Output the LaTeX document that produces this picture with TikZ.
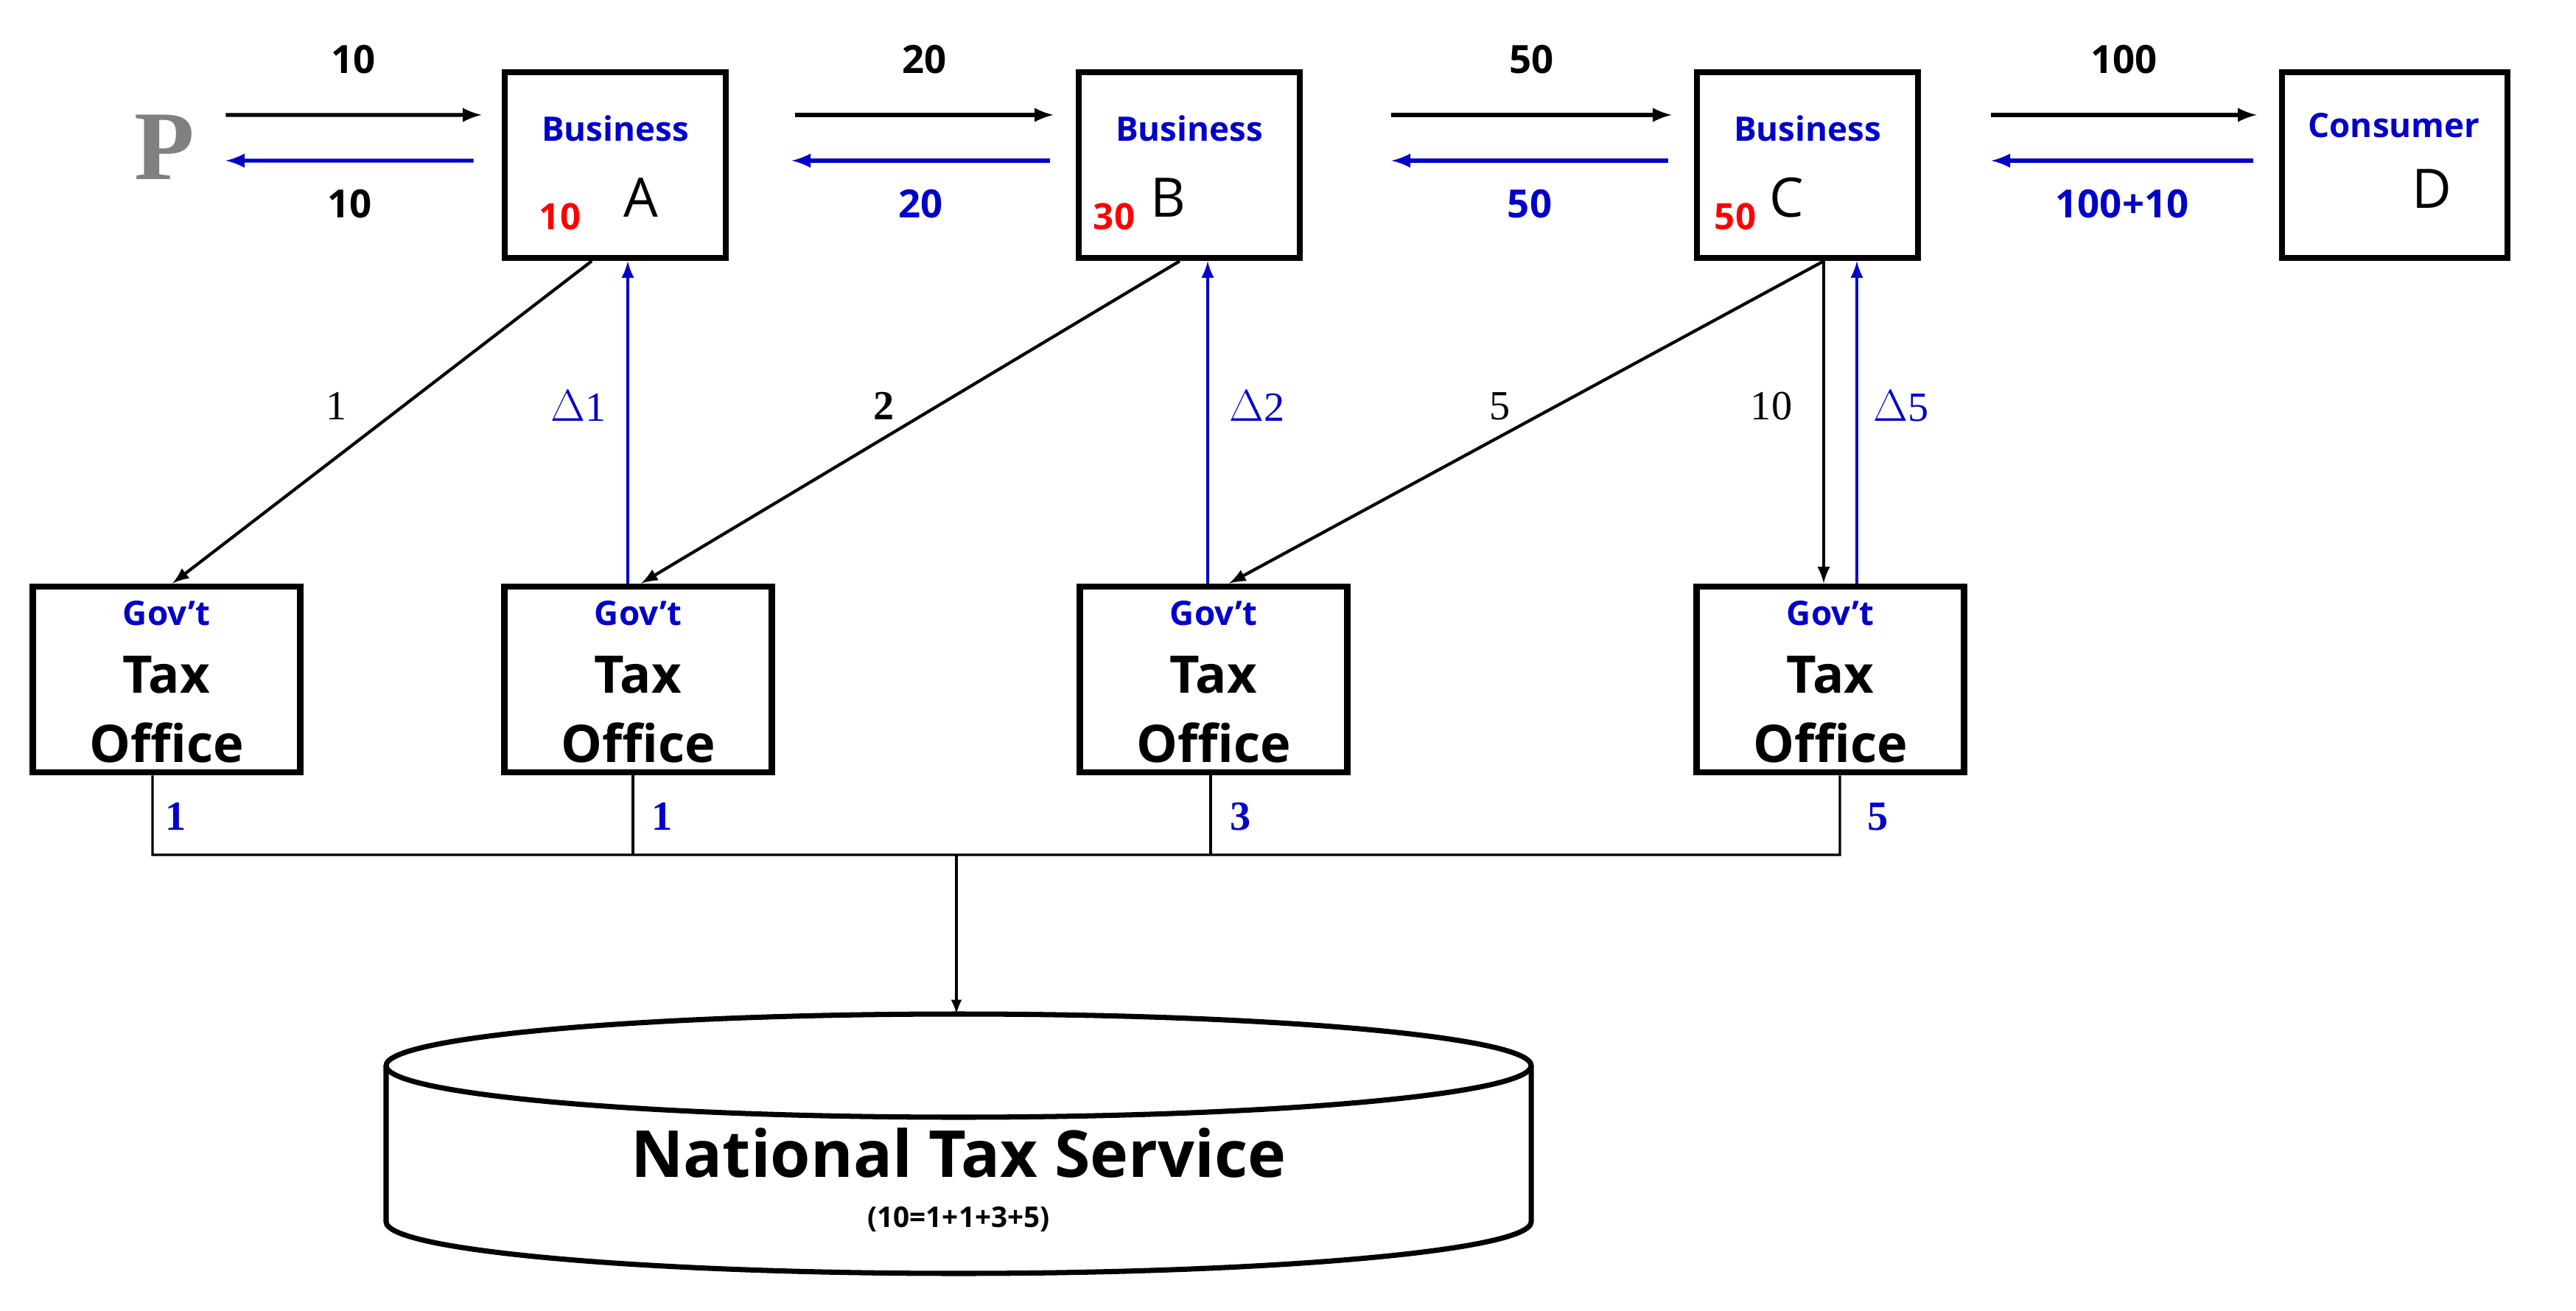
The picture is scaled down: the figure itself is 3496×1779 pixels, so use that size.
\documentclass[tikz,border=0pt]{standalone}
\usepackage{fontspec}
\setmainfont{Open Sans}
\newfontfamily\tms{Liberation Serif}
\usetikzlibrary{arrows}
\definecolor{vblue}{RGB}{0,0,200}

\tikzset{
  biz/.style={draw, line width=2.4pt, minimum width=3cm, minimum height=2.52cm},
  office/.style={draw, line width=2.4pt, minimum width=3.63cm, minimum height=2.52cm, inner sep=0pt},
  flow/.style={->, >=latex, line width=1.5pt},
  back/.style={->, >=latex, line width=1.5pt, vblue},
  amt/.style={font=\fontsize{15}{15}\selectfont\bfseries},
  bamt/.style={font=\fontsize{15}{15}\selectfont\bfseries, vblue},
  tax/.style={font=\tms\fontsize{16}{16}\selectfont},
  tag/.style={font=\fontsize{13}{13}\selectfont\bfseries, vblue},
  ltr/.style={font=\fontsize{21}{21}\selectfont},
  inval/.style={font=\fontsize{14}{14}\selectfont\bfseries, text=red},
  big/.style={font=\fontsize{20}{20}\selectfont\bfseries}
}

\begin{document}
\begin{tikzpicture}[x=0.01cm, y=-0.01cm]
\useasboundingbox (0,0) rectangle (3496,1779);

% Businesses and consumer
\node[font=\tms\fontsize{38}{38}\selectfont\bfseries, text=gray] (P) at (223,200) {P};
\node[biz] (A) at (835,224) {};
\node[biz] (B) at (1614,224) {};
\node[biz] (C) at (2453,224) {};
\node[biz, minimum width=3.06cm] (D) at (3250,224) {};
\node[tag] at (835,174) {Business};
\node[tag] at (1614,174) {Business};
\node[tag] at (2453,174) {Business};
\node[tag] at (3249,170) {Consumer};
\node[ltr] (Aname) at (870,268) {A};
\node[ltr] (Bname) at (1585,268) {B};
\node[ltr] (Cname) at (2425,268) {C};
\node[ltr] (Dname) at (3300,256) {D};
\node[inval] (Aval) at (760,294) {10};
\node[inval] (Bval) at (1512,294) {30};
\node[inval] (Cval) at (2355,294) {50};

% Tax offices
\foreach \n/\x in {T1/226, T2/866, T3/1647, T4/2484} {
  \node[office] (\n) at (\x,922) {};
  \node[tag] (\n g) at (\x,832) {Gov't};
  \node[big] (\n t) at (\x,916) {Tax};
  \node[big] (\n o) at (\x,1008) {Office};
}

% Sales and payments
\draw[flow] ([xshift=0.3cm, yshift=0.44cm]P.east) -- node[amt, above=0.42cm] {10} ([xshift=-0.27cm, yshift=0.68cm]A.west);
\draw[back] ([xshift=-0.38cm, yshift=0.06cm]A.west) -- node[amt, text=black, below=0.25cm] {10} ([xshift=0.3cm, yshift=-0.18cm]P.east);
\draw[flow] ([xshift=0.9cm, yshift=0.68cm]A.east) -- node[amt, above=0.42cm] {20} ([xshift=-0.3cm, yshift=0.68cm]B.west);
\draw[back] ([xshift=-0.35cm, yshift=0.06cm]B.west) -- node[bamt, below=0.25cm] {20} ([xshift=0.85cm, yshift=0.06cm]A.east);
\draw[flow] ([xshift=1.2cm, yshift=0.68cm]B.east) -- node[amt, above=0.42cm] {50} ([xshift=-0.3cm, yshift=0.68cm]C.west);
\draw[back] ([xshift=-0.35cm, yshift=0.06cm]C.west) -- node[bamt, below=0.25cm] {50} ([xshift=1.2cm, yshift=0.06cm]B.east);
\draw[flow] ([xshift=0.95cm, yshift=0.68cm]C.east) -- node[amt, above=0.42cm] {100} ([xshift=-0.3cm, yshift=0.68cm]D.west);
\draw[back] ([xshift=-0.35cm, yshift=0.06cm]D.west) -- node[bamt, below=0.25cm] {100+10} ([xshift=0.95cm, yshift=0.06cm]C.east);

% Tax and refunds
\draw[flow, line width=1.2pt] ([xshift=-0.32cm]A.south) -- ([xshift=0.08cm]T1.north);
\draw[back, line width=1.2pt] ([xshift=-0.14cm]T2.north) -- ([xshift=-0.14cm]T2.north |- A.south);
\draw[flow, line width=1.2pt] ([xshift=-0.13cm]B.south) -- ([xshift=0.04cm]T2.north);
\draw[back, line width=1.2pt] ([xshift=-0.08cm]T3.north) -- ([xshift=-0.08cm]T3.north |- B.south);
\draw[flow, line width=1.2pt] ([xshift=0.22cm]C.south) -- ([xshift=0.21cm]T3.north);
\draw[flow, line width=1.2pt] ([xshift=0.22cm]C.south) -- ([xshift=0.22cm]C.south |- T4.north);
\draw[back, line width=1.2pt] ([xshift=0.36cm]T4.north) -- ([xshift=0.36cm]T4.north |- C.south);
\node[tax] at (457,551) {1};
\node[tax, vblue] at (785,551) {$\Delta$1};
\node[tax, font=\tms\fontsize{16}{16}\selectfont\bfseries] at (1200,551) {2};
\node[tax, vblue] at (1706,551) {$\Delta$2};
\node[tax] at (2036,551) {5};
\node[tax] at (2404,551) {10};
\node[tax, vblue] at (2580,551) {$\Delta$5};

% Collection
\coordinate (busL) at (207,1160);
\coordinate (busR) at (2497,1160);
\coordinate (busM) at (1298,1160);
\coordinate (ntsTop) at (1298,1376);
\draw[line width=0.9pt] ([xshift=-0.19cm]T1.south) -- ([xshift=-0.19cm]T1.south |- busL) -- (busR) -- ([xshift=0.13cm]T4.south);
\draw[line width=0.9pt] ([xshift=-0.07cm]T2.south) -- ([xshift=-0.07cm]T2.south |- busL);
\draw[line width=0.9pt] ([xshift=-0.04cm]T3.south) -- ([xshift=-0.04cm]T3.south |- busL);
\node[tax, vblue, font=\tms\fontsize{16}{16}\selectfont\bfseries] at (239,1108) {1};
\node[tax, vblue, font=\tms\fontsize{16}{16}\selectfont\bfseries] at (899,1108) {1};
\node[tax, vblue, font=\tms\fontsize{16}{16}\selectfont\bfseries] at (1684,1108) {3};
\node[tax, vblue, font=\tms\fontsize{16}{16}\selectfont\bfseries] at (2549,1108) {5};
\draw[flow, line width=0.9pt] (busM) -- (ntsTop);

% National Tax Service
\draw[line width=2pt, fill=white] (1301,1446) ellipse [x radius=777, y radius=70];
\draw[line width=2pt] (524,1446) -- (524,1658) arc[start angle=180, end angle=360, x radius=777, y radius=-70] -- (2078,1446);
\node[font=\fontsize{25}{25}\selectfont\bfseries] (NTS) at (1301,1565) {National Tax Service};
\node[font=\fontsize{11}{11}\selectfont\bfseries] (NTSsum) at (1301,1655) {(10=1+1+3+5)};
\end{tikzpicture}
\end{document}
